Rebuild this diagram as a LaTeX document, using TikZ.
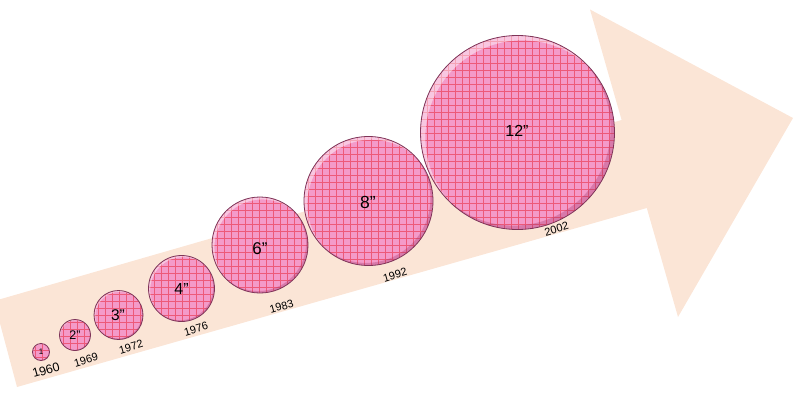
\documentclass[tikz,border=0pt]{standalone}
\usepackage{fontspec}
\setmainfont{Liberation Sans}
\definecolor{peach}{HTML}{FBE5D6}
\definecolor{discpink}{HTML}{F49AC9}
\definecolor{gridred}{HTML}{EC4E6C}
\definecolor{discdark}{HTML}{9A2E64}
\definecolor{discline}{HTML}{7E3458}
\tikzset{
  gridline/.style={draw=gridred, line width=1pt, opacity=0.85},
  yearlbl/.style={inner sep=0pt, rotate=16, text=black},
  disclbl/.style={inner sep=0pt, text=black},
}
\newcommand\pinkdisc[3]{%
  \begin{scope}
    \clip (#1,#2) circle (#3);
    \fill[discpink] (#1,#2) circle (#3);
    \draw[gridline, step=7pt] (#1-#3,#2+#3) grid (#1+#3,#2-#3);
    \fill[white, opacity=0.45, even odd rule] (#1,#2) circle (#3) ({#1+0.05*#3},{#2+0.05*#3}) circle (#3);
    \fill[discdark, opacity=0.3, even odd rule] (#1,#2) circle (#3) ({#1-0.04*#3},{#2-0.04*#3}) circle (#3);
  \end{scope}
  \draw[discline, line width=0.8pt] (#1,#2) circle (#3);
}
\begin{document}
\begin{tikzpicture}[x=1pt, y=-1pt]
  \useasboundingbox (0,0) rectangle (794,404);
  \begin{scope}
    \clip (0,0) rectangle (794,404);
    \fill[peach] (-6,301) -- (621.6,120) -- (590,9.5) -- (793,118) -- (678,317) -- (646.8,208) -- (17,387) -- cycle;
  \end{scope}
  \pinkdisc{41}{352}{8.5}
  \pinkdisc{75}{335}{15.5}
  \pinkdisc{118.5}{315}{24.5}
  \pinkdisc{181.5}{288.5}{33}
  \pinkdisc{260}{245}{48}
  \pinkdisc{368.5}{201}{64.5}
  \pinkdisc{517.5}{132.5}{97}
  \node[disclbl, font=\fontsize{8}{8}\selectfont] (n1) at (41,352) {1};
  \node[disclbl, font=\fontsize{12.5}{12.5}\selectfont] (n2) at (75,335) {2"};
  \node[disclbl, font=\fontsize{15.5}{15.5}\selectfont] (n3) at (118,315) {3"};
  \node[disclbl, font=\fontsize{16}{16}\selectfont] (n4) at (181.5,289) {4"};
  \node[disclbl, font=\fontsize{17}{17}\selectfont] (n6) at (260,249) {6"};
  \node[disclbl, font=\fontsize{17.5}{17.5}\selectfont] (n8) at (368,202.5) {8"};
  \node[disclbl, font=\fontsize{16}{16}\selectfont] (n12) at (517,131) {12"};
  \node[yearlbl, font=\fontsize{12.5}{12.5}\selectfont] (y1960) at (46,370) {1960};
  \node[yearlbl, font=\fontsize{11}{11}\selectfont] (y1969) at (86,360) {1969};
  \node[yearlbl, font=\fontsize{11}{11}\selectfont] (y1972) at (131,347) {1972};
  \node[yearlbl, font=\fontsize{11}{11}\selectfont] (y1976) at (196,329) {1976};
  \node[yearlbl, font=\fontsize{11}{11}\selectfont] (y1983) at (281.5,306.5) {1983};
  \node[yearlbl, font=\fontsize{11}{11}\selectfont] (y1992) at (395,275) {1992};
  \node[yearlbl, font=\fontsize{11}{11}\selectfont] (y2002) at (556.5,229) {2002};
\end{tikzpicture}
\end{document}
